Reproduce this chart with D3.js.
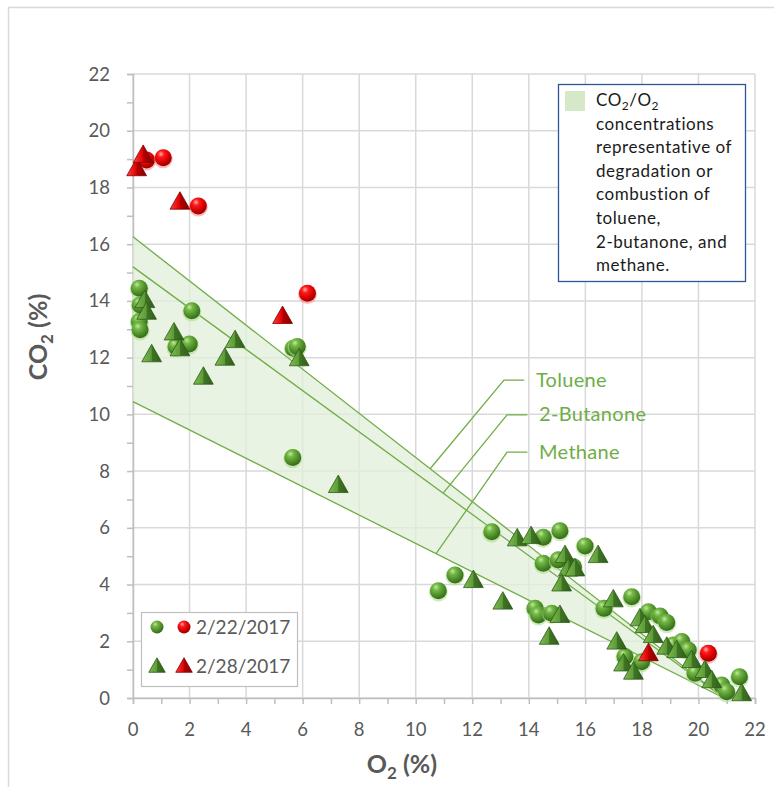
<!DOCTYPE html>
<html>
<head>
<meta charset="utf-8">
<script src="https://cdn.jsdelivr.net/npm/d3@7/dist/d3.min.js"></script>
<style>
	body { margin: 0; background: #fff; }
	svg { display: block; }
</style>
</head>
<body>
<div id="chart"></div>
<script>
	'use strict';

	////////// Data //////////
	// [O2 %, CO2 %]
	const greenCircles2_22 = [
		[0.22, 14.45], [0.25, 13.86], [0.22, 13.27], [0.25, 12.98], [2.08, 13.65], [1.52, 12.39], [1.99, 12.48],
		[5.67, 12.33], [5.81, 12.39], [5.65, 8.48], [10.80, 3.78], [11.39, 4.34], [12.69, 5.86], [14.51, 5.67],
		[15.10, 5.90], [15.99, 5.36], [14.51, 4.75], [15.04, 4.87], [15.58, 4.63], [14.22, 3.16], [14.34, 2.93],
		[14.81, 2.99], [16.66, 3.16], [17.64, 3.57], [18.23, 3.04], [18.64, 2.89], [18.88, 2.66], [19.11, 1.87],
		[19.41, 1.99], [19.64, 1.69], [17.40, 1.46], [17.99, 1.28], [19.88, 0.87], [20.82, 0.46], [21.00, 0.22],
		[21.45, 0.75]
	];
	const redCircles2_22 = [[0.48, 18.97], [1.07, 19.05], [2.31, 17.35], [6.17, 14.27], [20.35, 1.58]];
	const greenTriangles2_28 = [
		[0.42, 14.03], [0.48, 13.62], [1.45, 12.89], [0.66, 12.12], [1.66, 12.33], [3.61, 12.62], [3.25, 12.00],
		[2.49, 11.33], [5.88, 11.98], [7.26, 7.51], [12.04, 4.16], [13.08, 3.40], [13.59, 5.63], [14.08, 5.71],
		[15.28, 5.04], [15.40, 4.57], [15.63, 4.57], [15.16, 4.04], [15.10, 2.93], [14.72, 2.16], [16.45, 5.04],
		[16.99, 3.48], [17.93, 2.81], [18.11, 2.57], [18.40, 2.22], [17.11, 1.99], [18.88, 1.81], [19.23, 1.69],
		[19.76, 1.34], [17.35, 1.22], [17.70, 0.93], [20.23, 0.99], [20.47, 0.63], [21.53, 0.17]
	];
	const redTriangles2_28 = [[0.13, 18.68], [0.36, 19.15], [1.66, 17.50], [5.29, 13.47], [18.23, 1.58]];

	// stoichiometric lines: CO2 at O2 = 0, all reaching 0 at ambient O2
	const lineNames = ['Toluene', '2-Butanone', 'Methane'];
	const lineCO2AtZeroO2 = [16.26, 15.20, 10.45];
	const ambientO2 = 20.9;
	// leader line: [O2 on line, elbow O2, elbow CO2]
	const leaderPoints = [[10.51, 13.12, 11.21], [10.97, 13.23, 9.98], [10.72, 13.23, 8.67]];

	const xTicks = d3.range(0, 23, 2);
	const yTicks = d3.range(0, 23, 2);
	const minorTicks = d3.range(0, 23, 1);
	const legendDates = ['2/22/2017', '2/28/2017'];
	const bandLegendLines = ['CO2/O2', 'concentrations', 'representative of', 'degradation or', 'combustion of', 'toluene,', '2-butanone, and', 'methane.'];

	////////// Setup //////////
	const width = 774, height = 787;
	const font = 'Lato, "Open Sans", sans-serif';
	const axisTextColor = '#595959';
	const gridColor = '#d9d9d9';
	const lineGreen = '#70ad47';

	const svg = d3.select('#chart').append('svg')
		.attr('width', width)
		.attr('height', height)
		.style('font-family', font);

	const x = d3.scaleLinear().domain([0, 22]).range([133, 755]);
	const y = d3.scaleLinear().domain([0, 22]).range([698, 74]);

	// chart frame
	svg.append('path')
		.attr('d', `M8.5,${height} V7.5 H${width}`)
		.attr('fill', 'none')
		.attr('stroke', gridColor)
		.attr('stroke-width', 1.5);

	////////// Gradients //////////
	const defs = svg.append('defs');
	const sphereGrad = (id, stops) => {
		const g = defs.append('radialGradient').attr('id', id)
			.attr('cx', '38%').attr('cy', '32%').attr('r', '68%').attr('fx', '36%').attr('fy', '28%');
		stops.forEach(s => g.append('stop').attr('offset', s[0]).attr('stop-color', s[1]));
	};
	sphereGrad('sphereGreen', [['0%', '#c3e8a3'], ['28%', '#74b845'], ['72%', '#4a8a28'], ['100%', '#386b1c']]);
	sphereGrad('sphereRed', [['0%', '#ffb0b0'], ['28%', '#ff1a1a'], ['72%', '#d00000'], ['100%', '#9a0000']]);
	const pyramidGrad = (id, stops) => {
		const g = defs.append('linearGradient').attr('id', id).attr('x1', '0%').attr('x2', '100%').attr('y1', '0%').attr('y2', '0%');
		stops.forEach(s => g.append('stop').attr('offset', s[0]).attr('stop-color', s[1]));
	};
	pyramidGrad('pyrGreen', [['0%', '#7dbb52'], ['48%', '#5e9c38'], ['52%', '#3f7524'], ['100%', '#2f5d19']]);
	pyramidGrad('pyrRed', [['0%', '#ff4040'], ['48%', '#e00000'], ['52%', '#b00000'], ['100%', '#8a0000']]);

	////////// Grid and axes //////////
	const grid = svg.append('g').attr('class', 'grid').attr('stroke', gridColor).attr('stroke-width', 1.5);
	grid.selectAll('.gx').data(xTicks).join('line')
		.attr('x1', d => x(d)).attr('x2', d => x(d)).attr('y1', y(0)).attr('y2', y(22));
	grid.selectAll('.gy').data(yTicks).join('line')
		.attr('y1', d => y(d)).attr('y2', d => y(d)).attr('x1', x(0)).attr('x2', x(22));

	const xAxis = svg.append('g').attr('transform', `translate(0,${y(0)})`)
		.call(d3.axisBottom(x).tickValues(minorTicks).tickSize(6).tickFormat(''));
	const yAxis = svg.append('g').attr('transform', `translate(${x(0)},0)`)
		.call(d3.axisLeft(y).tickValues(minorTicks).tickSize(6).tickFormat(''));
	[xAxis, yAxis].forEach(a => {
		a.selectAll('path, line').attr('stroke', '#bfbfbf').attr('stroke-width', 1.5);
	});

	svg.append('g').selectAll('text').data(xTicks).join('text')
		.attr('x', d => x(d)).attr('y', 736)
		.attr('text-anchor', 'middle')
		.attr('fill', axisTextColor).style('font-size', '18.5px')
		.text(d => d);
	svg.append('g').selectAll('text').data(yTicks).join('text')
		.attr('x', 110).attr('y', d => y(d) + 6.5)
		.attr('text-anchor', 'end')
		.attr('fill', axisTextColor).style('font-size', '18.5px')
		.text(d => d);

	// axis titles
	const xTitle = svg.append('text')
		.attr('x', 402).attr('y', 773)
		.attr('text-anchor', 'middle')
		.attr('fill', axisTextColor)
		.style('font-size', '25px').style('font-weight', 'bold');
	xTitle.append('tspan').text('O');
	xTitle.append('tspan').text('2').attr('dy', 6).style('font-size', '17px');
	xTitle.append('tspan').text(' (%)').attr('dy', -6);

	const yTitle = svg.append('text')
		.attr('transform', 'translate(47,337) rotate(-90)')
		.attr('text-anchor', 'middle')
		.attr('fill', axisTextColor)
		.style('font-size', '25px').style('font-weight', 'bold');
	yTitle.append('tspan').text('CO');
	yTitle.append('tspan').text('2').attr('dy', 6).style('font-size', '17px');
	yTitle.append('tspan').text(' (%)').attr('dy', -6);

	////////// Band and lines //////////
	const lineData = lineCO2AtZeroO2.map(c => [[0, c], [ambientO2, 0]]);
	const pathGen = d3.line().x(d => x(d[0])).y(d => y(d[1]));

	svg.append('path')
		.datum([[0, d3.max(lineCO2AtZeroO2)], [ambientO2, 0], [0, d3.min(lineCO2AtZeroO2)]])
		.attr('d', d => pathGen(d) + 'Z')
		.attr('fill', '#e2efda')
		.attr('fill-opacity', 0.75);

	svg.append('g').selectAll('path').data(lineData).join('path')
		.attr('d', pathGen)
		.attr('fill', 'none')
		.attr('stroke', lineGreen)
		.attr('stroke-width', 1.3);

	// callout labels
	const callouts = svg.append('g');
	leaderPoints.forEach((p, i) => {
		const c0 = lineCO2AtZeroO2[i];
		const onLineCO2 = c0 * (1 - p[0] / ambientO2);
		callouts.append('path')
			.attr('d', pathGen([[p[0], onLineCO2], [p[1], p[2]], [p[1] + 0.72, p[2]]]))
			.attr('fill', 'none')
			.attr('stroke', lineGreen)
			.attr('stroke-width', 1.3);
		callouts.append('text')
			.attr('x', x(p[1]) + 32).attr('y', y(p[2]) + 6.5)
			.attr('fill', lineGreen)
			.style('font-size', '20px')
			.style('letter-spacing', '0.3px')
			.text(lineNames[i]);
	});

	////////// Markers //////////
	const triPath = s => `M0,${-s * 0.55} L${s * 0.55},${s * 0.42} L${-s * 0.55},${s * 0.42} Z`;

	const drawSpheres = (data, grad, glow, r) => {
		const g = svg.append('g');
		data.forEach(d => {
			g.append('circle').attr('cx', x(d[0])).attr('cy', y(d[1]) + 1.2).attr('r', r + 1)
				.attr('fill', glow).attr('fill-opacity', 0.55);
			g.append('circle').attr('cx', x(d[0])).attr('cy', y(d[1])).attr('r', r)
				.attr('fill', `url(#${grad})`);
		});
	};
	const drawPyramids = (data, grad, edge, s) => {
		svg.append('g').selectAll('path').data(data).join('path')
			.attr('transform', d => `translate(${x(d[0])},${y(d[1])})`)
			.attr('d', triPath(s))
			.attr('fill', `url(#${grad})`)
			.attr('stroke', edge)
			.attr('stroke-width', 0.8)
			.attr('stroke-linejoin', 'round');
	};

	drawSpheres(greenCircles2_22, 'sphereGreen', '#a8dc82', 8.5);
	drawSpheres(redCircles2_22, 'sphereRed', '#ff8080', 8.5);
	drawPyramids(greenTriangles2_28, 'pyrGreen', '#2d5a18', 18);
	drawPyramids(redTriangles2_28, 'pyrRed', '#800000', 18);

	////////// Legends //////////
	// band legend (top right)
	const bandLegend = svg.append('g').attr('transform', 'translate(558,84)');
	bandLegend.append('rect')
		.attr('x', 0.5).attr('y', 0.5).attr('width', 187).attr('height', 197)
		.attr('fill', '#fff').attr('stroke', '#2f5597').attr('stroke-width', 1.3);
	bandLegend.append('rect')
		.attr('x', 7).attr('y', 7).attr('width', 20).attr('height', 20)
		.attr('fill', '#d5e8c7');
	bandLegendLines.forEach((line, i) => {
		const t = bandLegend.append('text')
			.attr('x', 38).attr('y', 22 + i * 23.6)
			.attr('fill', '#1a1a1a')
			.style('font-size', '17px')
			.style('letter-spacing', '0.55px');
		if (i === 0) {
			t.append('tspan').text('CO');
			t.append('tspan').text('2').attr('dy', 4).style('font-size', '12px');
			t.append('tspan').text('/O').attr('dy', -4);
			t.append('tspan').text('2').attr('dy', 4).style('font-size', '12px');
		} else {
			t.text(line);
		}
	});

	// date legend (bottom left)
	const dateLegend = svg.append('g').attr('transform', 'translate(141,612)');
	dateLegend.append('rect')
		.attr('x', 0.5).attr('y', 0.5).attr('width', 156).attr('height', 74)
		.attr('fill', '#fff').attr('stroke', '#bfbfbf').attr('stroke-width', 1.2);
	const legSphere = (cx, cy, grad) => {
		dateLegend.append('circle').attr('cx', cx).attr('cy', cy).attr('r', 6.5).attr('fill', `url(#${grad})`);
	};
	const legPyr = (cx, cy, grad, edge) => {
		dateLegend.append('path').attr('transform', `translate(${cx},${cy})`).attr('d', triPath(15))
			.attr('fill', `url(#${grad})`).attr('stroke', edge).attr('stroke-width', 0.8);
	};
	legSphere(16, 15, 'sphereGreen');
	legSphere(43, 15, 'sphereRed');
	legPyr(16, 54, 'pyrGreen', '#2d5a18');
	legPyr(43, 54, 'pyrRed', '#800000');
	dateLegend.selectAll('.lt').data(legendDates).join('text')
		.attr('x', 55).attr('y', (d, i) => 22 + i * 39)
		.attr('fill', axisTextColor)
		.style('font-size', '19px')
		.text(d => d);
</script>
</body>
</html>
